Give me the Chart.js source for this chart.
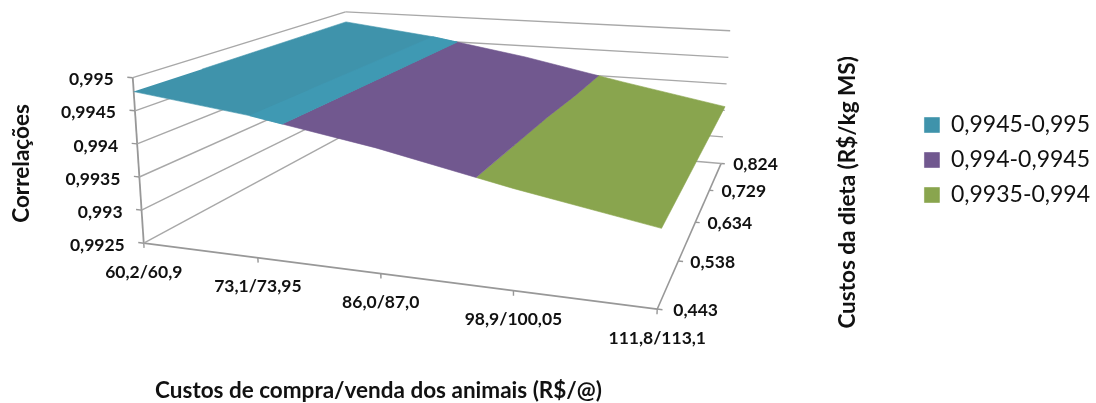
<!DOCTYPE html>
<html lang="pt">
<head>
<meta charset="utf-8">
<title>Correlações</title>
<script src="https://cdn.jsdelivr.net/npm/chart.js@4"></script>
<style>
  html, body { margin: 0; padding: 0; background: #fff; }
  canvas { display: block; }
</style>
</head>
<body>
<canvas id="chart" width="1096" height="403"></canvas>
<script>
/* data */
const costLabels = ['60,2/60,9', '73,1/73,95', '86,0/87,0', '98,9/100,05', '111,8/113,1'];
const dietLabels = ['0,443', '0,538', '0,634', '0,729', '0,824'];
const corrTicks  = [0.9925, 0.993, 0.9935, 0.994, 0.9945, 0.995];
const corrLabels = ['0,9925', '0,993', '0,9935', '0,994', '0,9945', '0,995'];

// one row per diet cost, one value per purchase/sale cost
const corrDiet443 = [0.99479, 0.99458, 0.99428, 0.99390, 0.99357];
const corrDiet538 = [0.99479, 0.99458, 0.99428, 0.99390, 0.99357];
const corrDiet634 = [0.99479, 0.99458, 0.99428, 0.99390, 0.99357];
const corrDiet729 = [0.99479, 0.99458, 0.99428, 0.99391, 0.99357];
const corrDiet824 = [0.99479, 0.99458, 0.99428, 0.99391, 0.99357];
const corrRows = [corrDiet443, corrDiet538, corrDiet634, corrDiet729, corrDiet824];

const bandNames = ['0,9945-0,995', '0,994-0,9945', '0,9935-0,994'];
const bandLow   = [0.9945, 0.994, 0.9935];
const bandHigh  = [0.995, 0.9945, 0.994];

const TEAL = '#3F93AB', TEAL_LIGHT = '#3F99B3', PURPLE = '#71588F', GREEN = '#89A54E';
const GRID = '#A8A8A8', AXIS = '#989898', INK = '#111';
const LABEL_FONT = 'bold 17.5px Lato';
const TITLE_FONT = 'bold 22.5px Lato';

/* 3D box projection: floor and ceiling corners in order front-left, front-right, back-right, back-left */
const FLOOR = [[143, 243], [657, 309], [721, 163], [350, 131]];
const CEIL  = [[132, 77], [667, 120], [730, 30], [345, 11]];

function homography(q) {
  const [p0, p1, p2, p3] = q;
  const dx1 = p1[0] - p2[0], dy1 = p1[1] - p2[1];
  const dx2 = p3[0] - p2[0], dy2 = p3[1] - p2[1];
  const sx = p0[0] - p1[0] + p2[0] - p3[0], sy = p0[1] - p1[1] + p2[1] - p3[1];
  const den = dx1 * dy2 - dy1 * dx2;
  const g = (sx * dy2 - sy * dx2) / den;
  const h = (dx1 * sy - dy1 * sx) / den;
  return (u, v) => {
    const w = g * u + h * v + 1;
    return [
      (p0[0] + u * (p1[0] * (1 + g) - p0[0]) + v * (p3[0] * (1 + h) - p0[0])) / w,
      (p0[1] + u * (p1[1] * (1 + g) - p0[1]) + v * (p3[1] * (1 + h) - p0[1])) / w
    ];
  };
}
const floorAt = homography(FLOOR), ceilAt = homography(CEIL);

// col and row in category units, z is the correlation
function project(col, row, z) {
  const u = col / (costLabels.length - 1), v = row / (dietLabels.length - 1);
  const t = (z - corrTicks[0]) / (corrTicks[corrTicks.length - 1] - corrTicks[0]);
  const a = floorAt(u, v), b = ceilAt(u, v);
  return { x: a[0] + (b[0] - a[0]) * t, y: a[1] + (b[1] - a[1]) * t };
}

function corrAt(row, col) {
  const vals = corrRows[row];
  const i = Math.min(Math.floor(col), vals.length - 2);
  return vals[i] + (vals[i + 1] - vals[i]) * (col - i);
}

// column where a row drops to the given value
function crossing(row, value) {
  const vals = corrRows[row];
  if (value >= vals[0]) return 0;
  for (let i = 0; i < vals.length - 1; i++) {
    if (value >= vals[i + 1]) return i + (vals[i] - value) / (vals[i] - vals[i + 1]);
  }
  return vals.length - 1;
}

// outline of the surface between two correlations, limited to a column range
function bandOutline(low, high, colMin, colMax) {
  const last = corrRows.length - 1;
  const clamp = c => Math.max(colMin, Math.min(colMax, c));
  const start = r => clamp(crossing(r, high)), end = r => clamp(crossing(r, low));
  const surf = (row, col) => project(col, row, corrAt(row, col));
  const pts = [];
  const along = (row, from, to) => {
    const cols = [];
    for (let c = Math.ceil(from); c < to; c++) if (c > from) cols.push(c);
    pts.push(surf(row, from));
    cols.forEach(c => pts.push(surf(row, c)));
    pts.push(surf(row, to));
  };
  along(0, start(0), end(0));
  for (let r = 1; r < last; r++) pts.push(surf(r, end(r)));
  const back = pts.length;
  along(last, start(last), end(last));
  pts.push(...pts.splice(back).reverse());
  for (let r = last - 1; r > 0; r--) pts.push(surf(r, start(r)));
  return pts;
}

function surface(label, color, low, high, colMin, colMax) {
  return {
    label, data: bandOutline(low, high, colMin, colMax),
    showLine: true, fill: 'shape', backgroundColor: color, borderColor: color,
    borderWidth: 0.6, pointRadius: 0, clip: false
  };
}

function stroke(points, color, width) {
  return {
    label: '', data: points, showLine: true, fill: false, borderColor: color,
    borderWidth: width, pointRadius: 0, clip: false
  };
}

const lastCol = costLabels.length - 1, lastRow = dietLabels.length - 1;
const zMin = corrTicks[0], zMax = corrTicks[corrTicks.length - 1];

// the first dataset is painted last; second column of the teal band is a little lighter
const datasets = [
  surface('', TEAL_LIGHT, bandLow[0], bandHigh[0], 1, lastCol),
  surface(bandNames[0], TEAL, bandLow[0], bandHigh[0], 0, lastCol),
  surface(bandNames[1], PURPLE, bandLow[1], bandHigh[1], 0, lastCol),
  surface(bandNames[2], GREEN, bandLow[2], bandHigh[2], 0, lastCol)
];

corrTicks.forEach(z => {
  datasets.push(stroke([project(0, 0, z), project(0, lastRow, z)], GRID, 1.4));
  datasets.push(stroke([project(0, lastRow, z), project(lastCol, lastRow, z)], GRID, 1.4));
  datasets.push(stroke([project(-0.05, 0, z), project(0, 0, z)], AXIS, 1.4));
});
datasets.push(stroke([project(0, 0, zMin), project(0, 0, zMax)], AXIS, 1.8));
datasets.push(stroke([project(0, 0, zMin), project(lastCol, 0, zMin)], AXIS, 1.8));
datasets.push(stroke([project(lastCol, 0, zMin), project(lastCol, lastRow, zMin)], AXIS, 1.6));
costLabels.forEach((_, c) => {
  datasets.push(stroke([project(c, 0, zMin), project(c, 0, zMin - 0.00007)], AXIS, 1.4));
});
dietLabels.forEach((_, r) => {
  datasets.push(stroke([project(lastCol, r, zMin), project(lastCol + 0.035, r, zMin)], AXIS, 1.4));
});

const axisText = {
  id: 'axisText',
  afterDatasetsDraw(chart) {
    const { ctx, scales: { x, y } } = chart;
    const put = (text, p, dx, dy, align) => {
      ctx.textAlign = align;
      ctx.fillText(text, x.getPixelForValue(p.x) + dx, y.getPixelForValue(p.y) + dy);
    };
    ctx.save();
    ctx.fillStyle = INK;
    ctx.textBaseline = 'middle';
    ctx.font = LABEL_FONT;
    corrTicks.forEach((z, i) => put(corrLabels[i], project(0, 0, z), -19, 2, 'right'));
    costLabels.forEach((t, c) => put(t, project(c, 0, zMin), 0, 29, 'center'));
    dietLabels.forEach((t, r) => put(t, project(lastCol, r, zMin), r === 0 ? 16 : 12, 1, 'left'));

    ctx.font = TITLE_FONT;
    put('Custos de compra/venda dos animais (R$/@)', { x: 378, y: 391 }, 0, 0, 'center');
    const vertical = (text, cx, cy) => {
      ctx.save();
      ctx.translate(x.getPixelForValue(cx), y.getPixelForValue(cy));
      ctx.rotate(-Math.PI / 2);
      ctx.textAlign = 'center';
      ctx.fillText(text, 0, 0);
      ctx.restore();
    };
    vertical('Correlações', 21, 163);
    vertical('Custos da dieta (R$/kg MS)', 848, 192);
    ctx.restore();
  }
};

const chart = new Chart(document.getElementById('chart'), {
  type: 'scatter',
  data: { datasets },
  plugins: [axisText],
  options: {
    responsive: false,
    animation: false,
    layout: { padding: { right: -4, bottom: 83 } },
    plugins: {
      tooltip: { enabled: false },
      legend: {
        position: 'right',
        labels: {
          boxWidth: 15, boxHeight: 15, padding: 12, color: '#111',
          font: { family: 'Lato', size: 23 },
          filter: item => !!item.text
        }
      }
    },
    scales: {
      x: { display: false, type: 'linear', min: 0, max: 1 },
      y: { display: false, type: 'linear', min: 0, max: 1, reverse: true }
    }
  }
});

// pixels of the box are canvas pixels, so the scales follow the area left by the legend
chart.options.scales.x.max = chart.chartArea.width;
chart.options.scales.y.max = chart.chartArea.height;
chart.update('none');
</script>
</body>
</html>
